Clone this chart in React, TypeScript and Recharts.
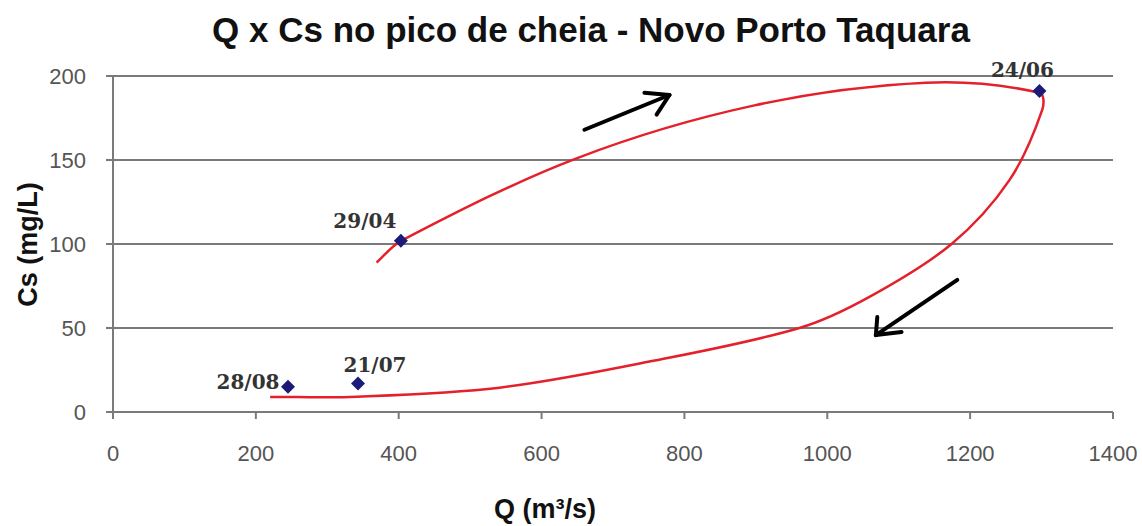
import { ComposedChart, Line, Scatter, XAxis, YAxis, CartesianGrid, ReferenceLine } from 'recharts'

// observed samples (Q in m3/s, Cs in mg/L)
const sampleDates = ['29/04', '24/06', '21/07', '28/08']
const sampleQ = [403, 1297, 343, 245]
const sampleCs = [102, 191, 17, 15]

// hysteresis loop, in drawing order
const loopQ = [369, 404, 649, 898, 1138, 1297, 1301, 1255, 1174, 1059, 961, 751, 541, 331, 220]
const loopCs = [89, 102, 151, 182.5, 196, 190, 180, 138, 100, 68.5, 50, 30, 14.5, 9, 9]

const xTicks = [0, 200, 400, 600, 800, 1000, 1200, 1400]
const yTicks = [0, 50, 100, 150, 200]

// direction arrows: shaft + two head strokes
const arrowUp = [
  [{ x: 660, y: 168 }, { x: 779, y: 188.7 }],
  [{ x: 744, y: 190 }, { x: 779, y: 188.7 }],
  [{ x: 761, y: 177 }, { x: 779, y: 188.7 }],
]
const arrowDown = [
  [{ x: 1182, y: 78.6 }, { x: 1068, y: 45.8 }],
  [{ x: 1070, y: 56.5 }, { x: 1068, y: 45.8 }],
  [{ x: 1104, y: 47.6 }, { x: 1068, y: 45.8 }],
]

const samples = sampleDates.map((d, i) => ({ date: d, q: sampleQ[i], cs: sampleCs[i] }))
const loop = loopQ.map((q, i) => ({ q, cs: loopCs[i] }))

// where each date label sits relative to its marker
const labelOffset: Record<string, [number, number]> = {
  '29/04': [-36, -18],
  '24/06': [-17, -20],
  '21/07': [17, -17],
  '28/08': [-40, -3],
}

// smooth spline through the points, tangents scaled by chord length (like Excel's smoothed line)
const smoothCurve = (ctx: any) => {
  let pts: [number, number][] = []
  return {
    areaStart() {},
    areaEnd() {},
    lineStart() { pts = [] },
    point(x: number, y: number) { pts.push([+x, +y]) },
    lineEnd() {
      const n = pts.length
      if (!n) return
      ctx.moveTo(pts[0][0], pts[0][1])
      const d = (a: number[], b: number[]) => Math.hypot(b[0] - a[0], b[1] - a[1]) || 1
      const tan = (i: number): [number, number] => {
        const p0 = pts[Math.max(i - 1, 0)]
        const p2 = pts[Math.min(i + 1, n - 1)]
        const len = d(p0, pts[i]) * (i > 0 ? 1 : 0) + d(pts[i], p2) * (i < n - 1 ? 1 : 0)
        return [(p2[0] - p0[0]) / len, (p2[1] - p0[1]) / len]
      }
      for (let i = 0; i < n - 1; i++) {
        const a = pts[i], b = pts[i + 1]
        const l = d(a, b) / 3
        const ta = tan(i), tb = tan(i + 1)
        ctx.bezierCurveTo(a[0] + ta[0] * l, a[1] + ta[1] * l, b[0] - tb[0] * l, b[1] - tb[1] * l, b[0], b[1])
      }
    },
  }
}

const Diamond = (props: any) => {
  const { cx, cy, payload } = props
  const [dx, dy] = labelOffset[payload.date] || [0, -14]
  const r = 7
  return (
    <g>
      <polygon points={`${cx},${cy - r} ${cx + r},${cy} ${cx},${cy + r} ${cx - r},${cy}`} fill="#1c1c78" />
      <text x={cx + dx} y={cy + dy} textAnchor="middle" dominantBaseline="middle"
        style={{ fontFamily: "'DejaVu Serif', serif", fontWeight: 'bold', fontSize: 20, fill: '#333' }}>
        {payload.date}
      </text>
    </g>
  )
}

const tickStyle = { fill: '#555', fontSize: 22, fontFamily: "'Liberation Sans', Arial, sans-serif" }

export default function App() {
  return (
    <div style={{ position: 'absolute', left: 0, top: 0, width: 1142, height: 526, background: '#fff' }}>
      <div style={{ position: 'absolute', left: 0, width: 1182, top: 10, textAlign: 'center', fontFamily: "'Liberation Sans', Arial, sans-serif", fontWeight: 'bold', fontSize: 35, color: '#111' }}>
        Q x Cs no pico de cheia - Novo Porto Taquara
      </div>
      <div style={{ position: 'absolute', left: 545 - 100, width: 200, top: 494, textAlign: 'center', fontFamily: "'Liberation Sans', Arial, sans-serif", fontWeight: 'bold', fontSize: 27, color: '#111' }}>
        Q (m³/s)
      </div>
      <div style={{ position: 'absolute', left: 28 - 100, width: 200, top: 245 - 16, textAlign: 'center', transform: 'rotate(-90deg)', fontFamily: "'Liberation Sans', Arial, sans-serif", fontWeight: 'bold', fontSize: 27, color: '#111' }}>
        Cs (mg/L)
      </div>
      <ComposedChart width={1142} height={526} margin={{ top: 76, right: 29, bottom: 54, left: 53 }}>
        <CartesianGrid vertical={false} stroke="#7a7a7a" strokeWidth={2} />
        <XAxis type="number" dataKey="q" domain={[0, 1400]} ticks={xTicks} height={60}
          stroke="#7a7a7a" strokeWidth={2} tickSize={7} tickMargin={26} tick={tickStyle} />
        <YAxis type="number" dataKey="cs" domain={[0, 200]} ticks={yTicks} width={60}
          stroke="#7a7a7a" strokeWidth={2} tickSize={7} tickMargin={20} tick={tickStyle} />
        <Line data={loop} dataKey="cs" type={smoothCurve as any} stroke="#e4202a" strokeWidth={2.5} dot={false} activeDot={false} isAnimationActive={false} />
        {[...arrowUp, ...arrowDown].map((seg, i) => (
          <ReferenceLine key={i} segment={seg} stroke="#000" strokeWidth={4} strokeLinecap="round" />
        ))}
        <Scatter data={samples} dataKey="cs" shape={Diamond} isAnimationActive={false} />
      </ComposedChart>
    </div>
  )
}
